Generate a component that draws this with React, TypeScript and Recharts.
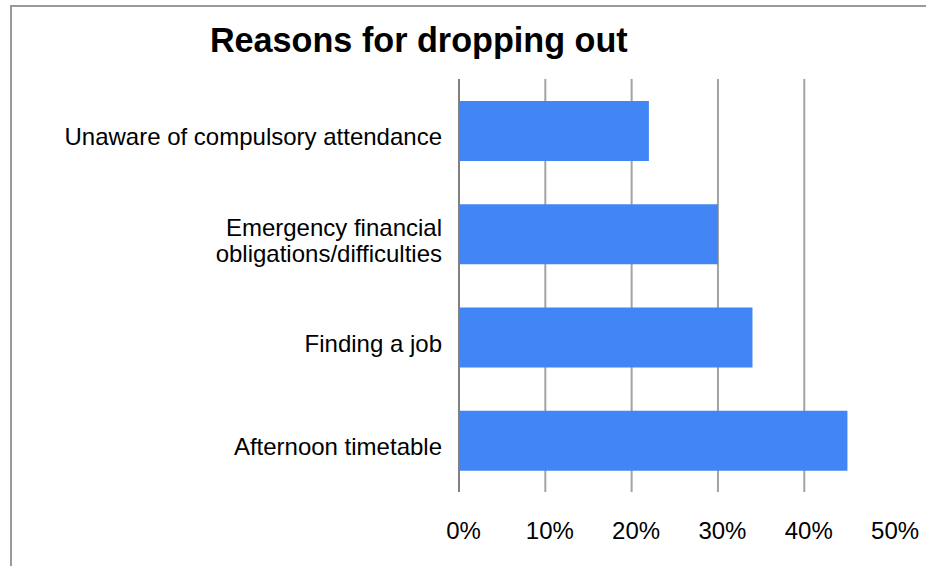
import React from "react";
import { BarChart, Bar, XAxis, YAxis, CartesianGrid } from "recharts";

const FONT = '"Liberation Sans", Arial, sans-serif';

const categories = [
  "Unaware of compulsory attendance",
  "Emergency financial\nobligations/difficulties",
  "Finding a job",
  "Afternoon timetable",
];
const shares = [22, 30, 34, 45];
const xTicks = [0, 10, 20, 30, 40, 50];
const gridValues = [10, 20, 30, 40];

const data = categories.map((name, i) => ({ name, value: shares[i] }));

function CategoryTick(props: any) {
  const { x, y, payload } = props;
  const lines = String(payload.value).split("\n");
  const mid = (lines.length - 1) / 2;
  return (
    <text x={x} textAnchor="end" fontFamily={FONT} fontSize={24} fill="#000">
      {lines.map((line, i) => (
        <tspan key={i} x={x} y={y + 14.8 + (i - mid) * 26}>
          {line}
        </tspan>
      ))}
    </text>
  );
}

function PercentTick(props: any) {
  const { x, y, payload } = props;
  return (
    <text x={x + 4.5} y={y} dy="0.71em" textAnchor="middle" fontFamily={FONT} fontSize={24} fill="#000">
      {payload.value + "%"}
    </text>
  );
}

export default function App() {
  return (
    <div style={{ position: "absolute", left: 0, top: 0, width: 926, height: 566, overflow: "hidden", background: "#fff" }}>
      <div
        style={{
          position: "absolute",
          left: 10,
          top: 5,
          width: 1000,
          height: 700,
          borderLeft: "2px solid #9a9a9a",
          borderTop: "2px solid #9a9a9a",
        }}
      />
      <BarChart
        width={926}
        height={566}
        data={data}
        layout="vertical"
        margin={{ top: 79, right: 35.4, bottom: 44, left: 0 }}
        style={{ position: "absolute", left: 0, top: 0 }}
      >
        <CartesianGrid horizontal={false} verticalValues={gridValues} stroke="#a3a3a3" strokeWidth={2} />
        <XAxis
          type="number"
          domain={[0, 50]}
          ticks={xTicks}
          height={30}
          axisLine={false}
          tickLine={false}
          tickSize={0}
          tickMargin={30}
          tick={<PercentTick />}
          interval={0}
        />
        <YAxis
          type="category"
          dataKey="name"
          width={459}
          axisLine={{ stroke: "#808080", strokeWidth: 2 }}
          tickLine={false}
          tickSize={0}
          tickMargin={17}
          tick={<CategoryTick />}
          interval={0}
        />
        <Bar dataKey="value" fill="#4285f4" barSize={60} isAnimationActive={false} />
      </BarChart>
      <svg width={926} height={566} style={{ position: "absolute", left: 0, top: 0, pointerEvents: "none" }}>
        <text x={418.8} y={52.3} textAnchor="middle" fontFamily={FONT} fontSize={34.2} fontWeight="bold" fill="#000">
          Reasons for dropping out
        </text>
      </svg>
    </div>
  );
}
